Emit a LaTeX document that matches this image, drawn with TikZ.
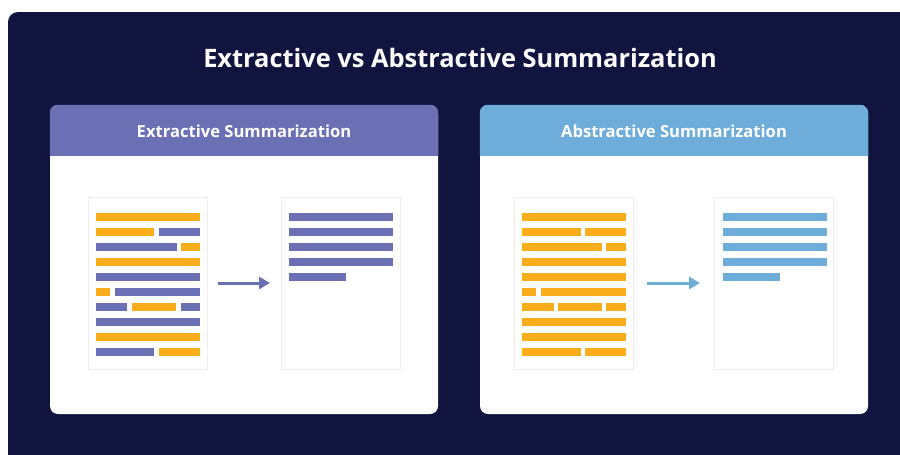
\documentclass[tikz,border=0pt]{standalone}
\usepackage{fontspec}
\setmainfont{Open Sans}
\usetikzlibrary{positioning,shadows,arrows.meta}

\definecolor{navy}{HTML}{11143F}
\definecolor{extrA}{HTML}{6B6FB4}
\definecolor{abstA}{HTML}{6EADDA}
\definecolor{amber}{HTML}{FAAD1B}

\tikzset{
  panel/.style={fill=white, rounded corners=8pt, minimum width=388pt, minimum height=309pt, inner sep=0pt},
  page/.style={fill=white, draw=black!7, line width=1pt, minimum width=119pt, minimum height=172pt, inner sep=0pt,
    drop shadow={opacity=.10, shadow xshift=0pt, shadow yshift=-1pt}},
  headtxt/.style={text=white, font=\bfseries\fontsize{16.6}{19}\selectfont},
  flow/.style={line width=3pt, -{Triangle[length=11pt,width=12pt]}}
}

\begin{document}
\begin{tikzpicture}[x=1pt,y=-1pt]
 \useasboundingbox (0,0) rectangle (900,455);
 \fill[navy, rounded corners=10pt] (8,12) rectangle (920,475);
 \node[text=white, font=\bfseries\fontsize{25.4}{30}\selectfont] (title) at (460,58) {Extractive vs Abstractive Summarization};

 % panels
 \node[panel] (extr) at (244,259.5) {};
 \node[panel] (abst) at (674,259.5) {};
 \fill[extrA] ([yshift=-51pt]extr.north west) [rounded corners=8pt] -- (extr.north west) -- (extr.north east) [sharp corners] -- ([yshift=-51pt]extr.north east) -- cycle;
 \fill[abstA] ([yshift=-51pt]abst.north west) [rounded corners=8pt] -- (abst.north west) -- (abst.north east) [sharp corners] -- ([yshift=-51pt]abst.north east) -- cycle;
 \node[headtxt] (extrT) at ([yshift=-26pt]extr.north) {Extractive Summarization};
 \node[headtxt] (abstT) at ([yshift=-26pt]abst.north) {Abstractive Summarization};

 % pages
 \node[page] (srcA) at (147.5,283) {};
 \node[page] (sumA) at (341,283) {};
 \node[page] (srcB) at (574,283) {};
 \node[page] (sumB) at (774,283) {};

 % text lines
 \foreach \r/\a/\b/\c in {0/96/200/amber, 1/96/154/amber, 1/159/200/extrA, 2/96/177/extrA, 2/181/200/amber,
   3/96/200/amber, 4/96/200/extrA, 5/96/110/amber, 5/115/200/extrA, 6/96/127/extrA, 6/132/176/amber,
   6/181/200/extrA, 7/96/200/extrA, 8/96/200/amber, 9/96/154/extrA, 9/159/200/amber}
   \fill[\c] (\a,213+15*\r) rectangle (\b,221+15*\r);
 \foreach \r/\a/\b in {0/289/393, 1/289/393, 2/289/393, 3/289/393, 4/289/346}
   \fill[extrA] (\a,213+15*\r) rectangle (\b,221+15*\r);
 \foreach \r/\a/\b in {0/522/626, 1/522/581, 1/585/626, 2/522/602, 2/606/626, 3/522/626, 4/522/626,
   5/522/536, 5/541/626, 6/522/554, 6/558/602, 6/606/626, 7/522/626, 8/522/626, 9/522/581, 9/585/626}
   \fill[amber] (\a,213+15*\r) rectangle (\b,221+15*\r);
 \foreach \r/\a/\b in {0/723/827, 1/723/827, 2/723/827, 3/723/827, 4/723/780}
   \fill[abstA] (\a,213+15*\r) rectangle (\b,221+15*\r);

 % arrows
 \draw[flow, extrA] ([xshift=10pt]srcA.east) -- ([xshift=-11pt]sumA.west);
 \draw[flow, abstA] ([xshift=13pt]srcB.east) -- ([xshift=-14pt]sumB.west);
\end{tikzpicture}
\end{document}
